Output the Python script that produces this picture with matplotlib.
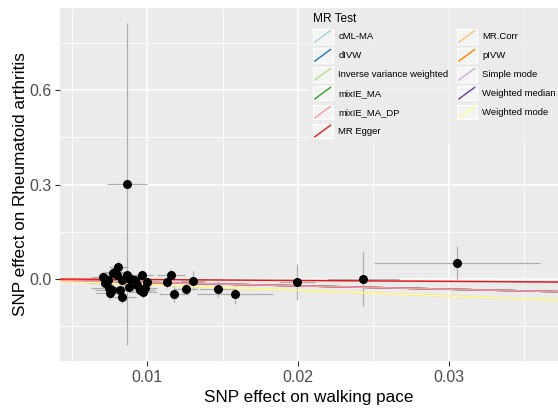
import matplotlib
matplotlib.use("Agg")
import matplotlib.pyplot as plt
from matplotlib.legend_handler import HandlerBase
from matplotlib.patches import Rectangle
from matplotlib.lines import Line2D
import numpy as np

plt.rcParams['font.family'] = ['Liberation Sans', 'DejaVu Sans']

# SNP data
bx = [0.00709, 0.00722, 0.00742, 0.00748, 0.00755, 0.00768, 0.00775, 0.00788, 0.00801,
      0.00808, 0.00821, 0.00834, 0.00834, 0.00868, 0.00868, 0.00874, 0.00881, 0.00894,
      0.00921, 0.00934, 0.00954, 0.00967, 0.00974, 0.00987, 0.01000, 0.01132, 0.01159,
      0.01179, 0.01258, 0.01305, 0.01470, 0.01583, 0.01993, 0.02430, 0.03053]
by = [0.006, -0.013, -0.003, -0.029, -0.044, -0.035, 0.019, 0.022, 0.013,
      0.038, -0.035, -0.003, -0.057, 0.302, 0.013, 0.003, -0.025, 0.000,
      -0.003, -0.019, -0.035, 0.013, -0.041, -0.029, -0.010, -0.010, 0.013,
      -0.048, -0.032, -0.006, -0.032, -0.048, -0.010, 0.000, 0.051]
sex = [0.0008, 0.0010, 0.0007, 0.0012, 0.0009, 0.0011, 0.0008, 0.0007, 0.0009,
       0.0006, 0.0010, 0.0008, 0.0009, 0.0013, 0.0007, 0.0008, 0.0009, 0.0007,
       0.0008, 0.0009, 0.0010, 0.0007, 0.0009, 0.0008, 0.0009, 0.0008, 0.0009,
       0.0010, 0.0008, 0.0008, 0.0012, 0.0025, 0.0012, 0.0024, 0.0055]
sey = [0.015, 0.014, 0.016, 0.018, 0.020, 0.017, 0.015, 0.016, 0.014,
       0.018, 0.016, 0.015, 0.020, 0.510, 0.015, 0.014, 0.016, 0.015,
       0.015, 0.016, 0.017, 0.015, 0.018, 0.016, 0.015, 0.020, 0.020,
       0.025, 0.020, 0.030, 0.025, 0.030, 0.058, 0.086, 0.055]

# MR methods
methods = ["cML-MA", "dIVW", "Inverse variance weighted", "mixIE_MA", "mixIE_MA_DP",
           "MR Egger", "MR.Corr", "pIVW", "Simple mode", "Weighted median", "Weighted mode"]
colors = ["#A6CEE3", "#1F78B4", "#B2DF8A", "#33A02C", "#FB9A99",
          "#E31A1C", "#FDBF6F", "#FF7F00", "#CAB2D6", "#6A3D9A", "#FFFF99"]
intercepts = [0, 0, 0, 0, 0, 0.0012, 0, 0, 0, 0, 0]
slopes = [-1.08, -1.08, -1.08, -1.08, -1.08, -0.29, -1.80, -1.08, -1.08, -1.08, -1.80]
zorders = [2.0, 2.0, 2.0, 2.0, 2.4, 2.6, 2.1, 2.0, 2.0, 2.0, 2.3]

xticks = [0.01, 0.02, 0.03]
yticks = [0.0, 0.3, 0.6]
xlim = (0.004238, 0.037219)
ylim = (-0.2603, 0.8603)

fig = plt.figure(figsize=(5.58, 4.09), dpi=100)
ax = fig.add_axes([60/558, 48/409, 498/558, 353/409])
ax.set_facecolor("#EBEBEB")
for s in ax.spines.values():
    s.set_visible(False)

ax.set_xlim(*xlim)
ax.set_ylim(*ylim)
ax.set_xticks(xticks)
ax.set_yticks(yticks)
ax.set_xticks([0.005, 0.015, 0.025, 0.035], minor=True)
ax.set_yticks([-0.15, 0.15, 0.45, 0.75], minor=True)
ax.set_xticklabels(["0.01", "0.02", "0.03"])
ax.set_yticklabels(["0.0", "0.3", "0.6"])
ax.grid(which="major", color="white", linewidth=1.1)
ax.grid(which="minor", color="white", linewidth=0.55)
ax.set_axisbelow(True)
ax.tick_params(which="major", length=3.8, width=0.8, color="#333333",
               labelsize=11.5, labelcolor="#4D4D4D", pad=2.5)
ax.tick_params(which="minor", length=0)

ax.errorbar(bx, by, xerr=sex, yerr=sey, fmt="none", ecolor="#ABABAB",
            elinewidth=0.85, capsize=0, zorder=1.5)
ax.scatter(bx, by, s=30, color="black", zorder=3)

xs = np.array(xlim)
handles = []
for name, c, a, b, z in zip(methods, colors, intercepts, slopes, zorders):
    ln, = ax.plot(xs, a + b * xs, color=c, linewidth=1.1, zorder=z, label=name)
    handles.append(ln)

ax.set_xlabel("SNP effect on walking pace", fontsize=12.3, labelpad=4)
ax.set_ylabel("SNP effect on Rheumatoid arthritis", fontsize=12.3, labelpad=1)


class DiagHandler(HandlerBase):
    def create_artists(self, legend, orig_handle, xdescent, ydescent,
                       width, height, fontsize, trans):
        bg = Rectangle((-xdescent, -ydescent), width, height,
                       facecolor="#F4F4F4", edgecolor="white", linewidth=0.8,
                       transform=trans)
        ln = Line2D([-xdescent + 0.1 * width, -xdescent + 0.9 * width],
                    [-ydescent + 0.1 * height, -ydescent + 0.9 * height],
                    color=orig_handle.get_color(), linewidth=1.0, transform=trans)
        return [bg, ln]


leg = ax.legend(handles=handles, labels=methods, title="MR Test", ncol=2,
                handler_map={Line2D: DiagHandler()},
                loc="upper left", bbox_to_anchor=(308/558, 401/409),
                bbox_transform=fig.transFigure,
                fontsize=6.8, title_fontsize=8.6, frameon=True,
                handlelength=2.1, handleheight=2.0, labelspacing=0.46,
                handletextpad=0.6, columnspacing=0.9, borderpad=0.5,
                borderaxespad=0)
leg._legend_box.align = "left"
frame = leg.get_frame()
frame.set_facecolor("#EBEBEB")
frame.set_alpha(0.7)
frame.set_edgecolor("none")
leg.set_zorder(5)

fig.savefig("out.png", dpi=100)
